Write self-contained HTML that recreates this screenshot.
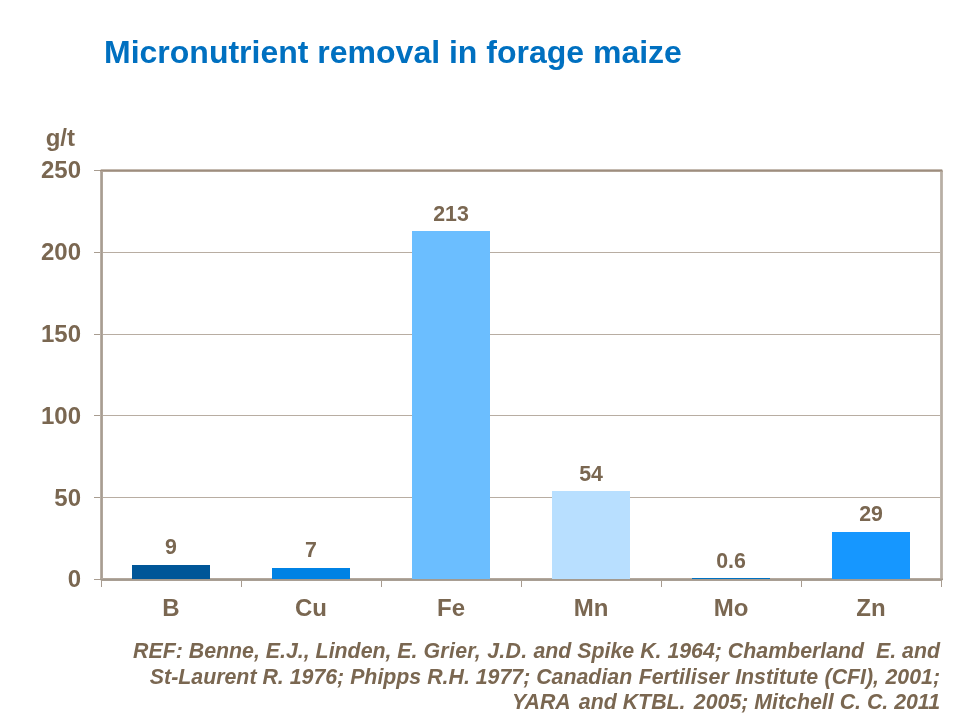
<!DOCTYPE html>
<html>
<head>
<meta charset="utf-8">
<style>
html,body{margin:0;padding:0;}
body{width:960px;height:720px;background:#fff;position:relative;overflow:hidden;font-family:"Liberation Sans",sans-serif;}
.t{will-change:transform;position:absolute;white-space:nowrap;font-weight:bold;color:#7a6751;line-height:1;}
#title{left:104px;top:36px;font-size:32px;color:#0070c0;}
.yl{font-size:24px;text-align:right;width:60px;left:21px;}
.xl{font-size:24px;text-align:center;width:140px;}
.dl{font-size:21.33px;text-align:center;width:140px;}
#ref{will-change:transform;position:absolute;right:20px;top:639px;width:860px;text-align:right;font-weight:bold;font-style:italic;font-size:21.33px;line-height:25.5px;color:#7a6751;white-space:pre;}
svg{position:absolute;left:0;top:0;}
</style>
</head>
<body>
<svg width="960" height="720" viewBox="0 0 960 720" shape-rendering="crispEdges">
  <g stroke="#b8ada2" stroke-width="1" fill="none">
    <line x1="103" y1="252.5" x2="940" y2="252.5"/>
    <line x1="103" y1="334.5" x2="940" y2="334.5"/>
    <line x1="103" y1="415.5" x2="940" y2="415.5"/>
    <line x1="103" y1="497.5" x2="940" y2="497.5"/>
  </g>
  <!-- plot border -->
  <rect x="940" y="169" width="1" height="412" fill="#c0b8af"/>
  <rect x="941" y="169" width="1" height="412" fill="#b8afa5"/>
  <rect x="942" y="169" width="1" height="412" fill="#c0b8af"/>
  <rect x="100" y="169" width="1" height="412" fill="#bab1a7"/>
  <rect x="101" y="169" width="1" height="412" fill="#a89d92"/>
  <rect x="102" y="169" width="1" height="412" fill="#b1a79c"/>
  <rect x="100" y="169" width="843" height="1" fill="#c4bab0"/>
  <rect x="100" y="170" width="842" height="1" fill="#9e8d7e"/>
  <rect x="100" y="171" width="843" height="1" fill="#b0a396"/>
  <rect x="100" y="578" width="843" height="1" fill="#b3a89d"/>
  <rect x="100" y="579" width="843" height="1" fill="#a39a8f"/>
  <rect x="100" y="580" width="843" height="1" fill="#a99f94"/>
  <g fill="#eeebe7"><rect x="100" y="169" width="1" height="1"/><rect x="942" y="169" width="1" height="1"/><rect x="942" y="580" width="1" height="1"/><rect x="100" y="580" width="1" height="1"/></g>
  <g fill="#a89c90">
    <rect x="94" y="170" width="6" height="1"/>
    <rect x="94" y="252" width="6" height="1"/>
    <rect x="94" y="334" width="6" height="1"/>
    <rect x="94" y="415" width="6" height="1"/>
    <rect x="94" y="497" width="6" height="1"/>
    <rect x="94" y="579" width="6" height="1"/>
    <rect x="101" y="581" width="1" height="6"/>
    <rect x="241" y="581" width="1" height="6"/>
    <rect x="381" y="581" width="1" height="6"/>
    <rect x="521" y="581" width="1" height="6"/>
    <rect x="661" y="581" width="1" height="6"/>
    <rect x="801" y="581" width="1" height="6"/>
    <rect x="941" y="581" width="1" height="6"/>
  </g>
  <rect x="132" y="565" width="78" height="14" fill="#005698"/>
  <rect x="272" y="568" width="78" height="11" fill="#0082e4"/>
  <rect x="412" y="231" width="78" height="348" fill="#6bbeff"/>
  <rect x="552" y="491" width="78" height="88" fill="#b8dfff"/>
  <rect x="692" y="578" width="78" height="1" fill="#0070c0"/>
  <rect x="832" y="532" width="78" height="47" fill="#1697ff"/>
</svg>
<div class="t" id="title">Micronutrient removal in forage maize</div>
<div class="t yl" style="top:126px;left:15px;">g/t</div>
<div class="t yl" style="top:158px;">250</div>
<div class="t yl" style="top:240px;">200</div>
<div class="t yl" style="top:322px;">150</div>
<div class="t yl" style="top:404px;">100</div>
<div class="t yl" style="top:486px;">50</div>
<div class="t yl" style="top:567px;">0</div>
<div class="t xl" style="left:100.5px;top:596px;">B</div>
<div class="t xl" style="left:240.5px;top:596px;">Cu</div>
<div class="t xl" style="left:380.5px;top:596px;">Fe</div>
<div class="t xl" style="left:520.5px;top:596px;">Mn</div>
<div class="t xl" style="left:660.5px;top:596px;">Mo</div>
<div class="t xl" style="left:800.5px;top:596px;">Zn</div>
<div class="t dl" style="left:100.5px;top:537px;">9</div>
<div class="t dl" style="left:240.5px;top:540px;">7</div>
<div class="t dl" style="left:380.5px;top:204px;">213</div>
<div class="t dl" style="left:520.5px;top:464px;">54</div>
<div class="t dl" style="left:660.5px;top:551px;">0.6</div>
<div class="t dl" style="left:800.5px;top:504px;">29</div>
<div id="ref"><div>REF: Benne, E.J., Linden, E. <span style="letter-spacing:0.3px">Grier, J.D.</span> and Spike K. 1964; Chamberland  E. and</div><div>St-Laurent R. 1976; Phipps R.H. 1977; <span style="word-spacing:0.5px">Canadian Fertiliser Institute (CFI), 2001;</span></div><div>YARA<span style="margin-left:2.2px"> </span>and KTBL.<span style="margin-left:2.4px"> </span>2005; Mitchell C. C. 2011</div></div>
</body>
</html>
